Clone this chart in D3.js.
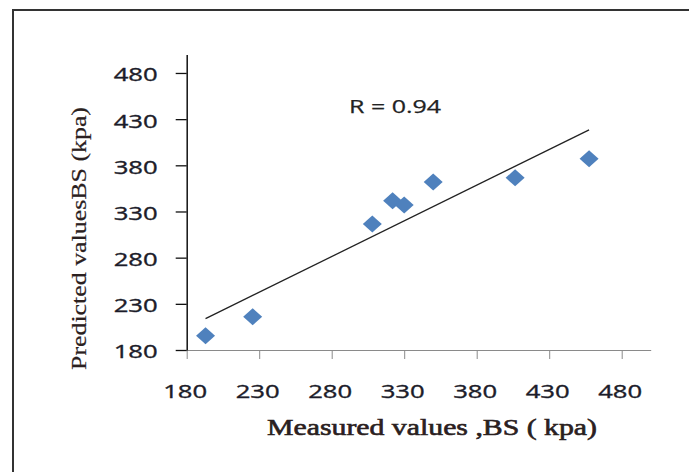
<!DOCTYPE html>
<html>
<head>
<meta charset="utf-8">
<script src="https://cdn.jsdelivr.net/npm/d3@7"></script>
<style>
  body { margin: 0; background: #fff; }
  svg { display: block; }
</style>
</head>
<body>
<svg width="689" height="472"></svg>
<script>
// values
var measured  = [193, 225.5, 308, 322, 330, 350, 406.5, 457.5];
var predicted = [195.5, 216, 316.5, 341.5, 337, 362, 366.5, 387];
var tickValues = [180, 230, 280, 330, 380, 430, 480];
var rLabel = "R = 0.94";
var xTitle = "Measured values ,BS ( kpa)";
var yTitle = "Predicted valuesBS (kpa)";

var svg = d3.select("svg"),
    width = +svg.attr("width"),
    height = +svg.attr("height");

// outer frame (only top and left edges show)
svg.append("rect")
    .attr("x", 13).attr("y", 10)
    .attr("width", width + 20).attr("height", height + 20)
    .style("fill", "none")
    .style("stroke", "#333")
    .style("stroke-width", 2);

var x = d3.scaleLinear().domain([180, 500]).range([186.7, 650.7]);
var y = d3.scaleLinear().domain([180, 500]).range([350, 54.5]);

// x axis
var gx = svg.append("g")
    .attr("transform", "translate(0," + y(180) + ")")
    .call(d3.axisBottom(x).tickValues(tickValues).tickSize(9).tickPadding(26).tickSizeOuter(0));
gx.select(".domain").style("stroke", "#8a8a8a");
gx.selectAll(".tick line").style("stroke", "#8a8a8a");

// y axis
var gy = svg.append("g")
    .attr("transform", "translate(" + x(180) + ",0)")
    .call(d3.axisLeft(y).tickValues(tickValues).tickSize(11).tickPadding(18).tickSizeOuter(0));
gy.select(".domain").style("stroke", "#111").style("stroke-width", 1.5);
gy.selectAll(".tick line").style("stroke", "#111").style("stroke-width", 1.3);

svg.selectAll(".tick text")
    .style("font-family", "'Open Sans', sans-serif")
    .style("font-size", "18px")
    .style("fill", "#1c1c2a")
    .style("stroke", "#1c1c2a")
    .style("stroke-width", 0.35)
    .attr("textLength", 44)
    .attr("lengthAdjust", "spacingAndGlyphs");
gy.selectAll(".tick text").attr("dy", "0.44em");
gx.selectAll(".tick text").attr("dx", -2);

// trend line (least squares)
var mx = d3.mean(measured),
    my = d3.mean(predicted),
    sxy = d3.sum(measured, function(d, i) { return (d - mx) * (predicted[i] - my); }),
    sxx = d3.sum(measured, function(d) { return (d - mx) * (d - mx); }),
    slope = sxy / sxx,
    icpt = my - slope * mx;
var xr = d3.extent(measured);

svg.append("path")
    .datum(xr.map(function(v) { return [v, icpt + slope * v]; }))
    .attr("d", d3.line().x(function(d) { return x(d[0]); }).y(function(d) { return y(d[1]); }))
    .style("fill", "none")
    .style("stroke", "#222")
    .style("stroke-width", 1.3);

// diamonds
var hw = 9.5, hh = 8.5;
svg.append("g").selectAll("path")
    .data(measured.map(function(d, i) { return [d, predicted[i]]; }))
    .enter().append("path")
    .attr("transform", function(d) { return "translate(" + x(d[0]) + "," + y(d[1]) + ")"; })
    .attr("d", "M0," + (-hh) + "L" + hw + ",0L0," + hh + "L" + (-hw) + ",0Z")
    .style("fill", "#4f81bd");

// R label
svg.append("text")
    .attr("x", 349).attr("y", 113)
    .attr("textLength", 92)
    .attr("lengthAdjust", "spacingAndGlyphs")
    .style("font-family", "'Open Sans', sans-serif")
    .style("font-size", "19px")
    .style("fill", "#222")
    .style("stroke", "#222")
    .style("stroke-width", 0.25)
    .text(rLabel);

// axis titles
svg.append("text")
    .attr("x", 267).attr("y", 435)
    .attr("textLength", 330)
    .attr("lengthAdjust", "spacingAndGlyphs")
    .style("font-family", "'Liberation Serif', serif")
    .style("font-size", "23px")
    .style("fill", "#2a2020")
    .style("stroke", "#2a2020")
    .style("stroke-width", 0.6)
    .text(xTitle);

svg.append("text")
    .attr("transform", "translate(86,370) rotate(-90)")
    .attr("textLength", 263)
    .attr("lengthAdjust", "spacingAndGlyphs")
    .style("font-family", "'Liberation Serif', serif")
    .style("font-size", "21px")
    .style("fill", "#2a2020")
    .style("stroke", "#2a2020")
    .style("stroke-width", 0.2)
    .text(yTitle);
</script>
</body>
</html>
